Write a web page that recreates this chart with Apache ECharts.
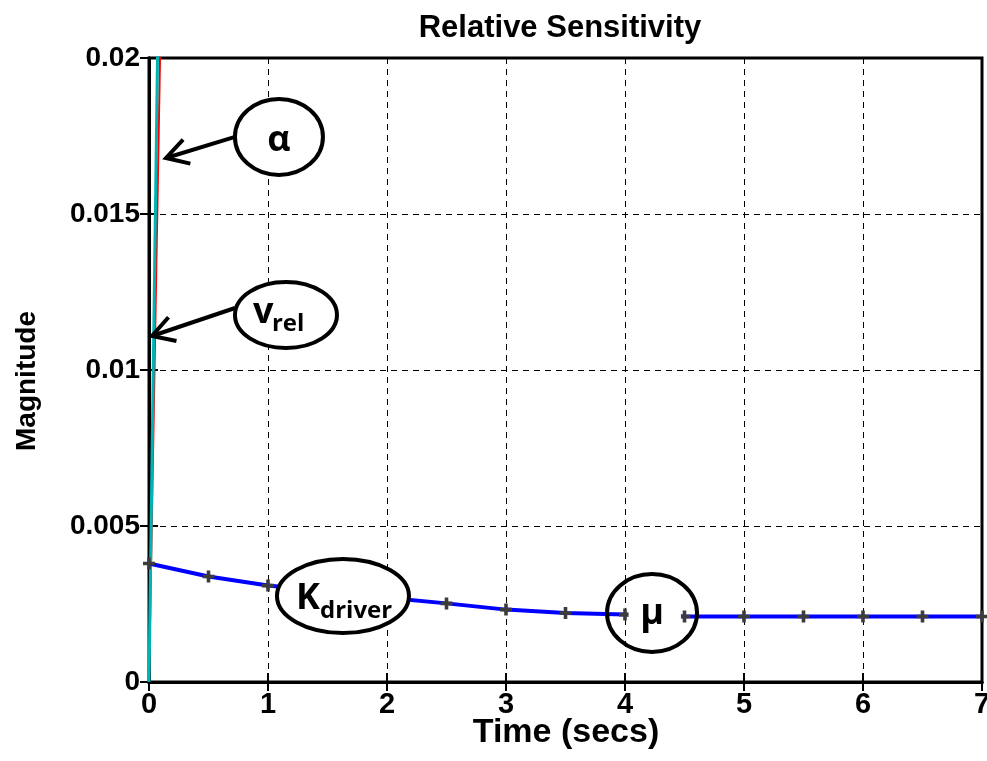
<!DOCTYPE html>
<html>
<head>
<meta charset="utf-8">
<script src="https://cdn.jsdelivr.net/npm/echarts@6/dist/echarts.min.js"></script>
<style>
  html, body { margin: 0; padding: 0; background: #ffffff; }
  #chart { width: 987px; height: 761px; }
</style>
</head>
<body>
<div id="chart"></div>
<script>
// Sensitivity samples (time in seconds)
const timeSecs = [0, 0.5, 1, 1.5, 2, 2.5, 3, 3.5, 4, 4.5, 5, 5.5, 6, 6.5, 7];
const kDriverSens = [0.0038, 0.00338, 0.00309, 0.0029, 0.0027, 0.00252, 0.00232, 0.00221, 0.00216, 0.0021, 0.0021, 0.0021, 0.0021, 0.0021, 0.0021];
const alphaTime = [0, 0.5];
const alphaSens = [0, 0.108];
const vrelTime = [0, 0.5];
const vrelSens = [0, 0.14];

// Axis ticks
const xTickValues = [0, 1, 2, 3, 4, 5, 6, 7];
const yTickLabels = ['0', '0.005', '0.01', '0.015', '0.02'];
const yStep = 0.005;

const pairs = (xs, ys) => xs.map((x, i) => [x, ys[i]]);

const axisFont = 'Liberation Sans, Arial, Helvetica, sans-serif';
const noteFont = '"Open Sans", Lato, sans-serif';

// plus-shaped point marker
const plusMarker = 'path://M3.5,0h3v3.5h3.5v3h-3.5v3.5h-3v-3.5h-3.5v-3h3.5z';

const chart = echarts.init(document.getElementById('chart'), null, { renderer: 'canvas' });

const gridLine = { show: true, lineStyle: { color: '#000', width: 1, type: [6, 5] } };

chart.setOption({
  animation: false,
  backgroundColor: '#ffffff',
  grid: { left: 149, right: 5, top: 58, bottom: 79, outerBoundsMode: 'none', containLabel: false,
    show: true, borderColor: '#000', borderWidth: 3, backgroundColor: 'transparent' },
  xAxis: [{
    type: 'value', min: 0, max: 7, interval: 1,
    axisLine: { show: true, lineStyle: { color: '#000', width: 3 } },
    axisTick: { show: true, inside: true, length: 9, lineStyle: { color: '#000', width: 2 } },
    axisLabel: { color: '#000', fontFamily: axisFont, fontWeight: 'bold', fontSize: 29, margin: 8,
      formatter: v => xTickValues.indexOf(v) >= 0 ? String(v) : '' },
    splitLine: gridLine
  }, {
    type: 'value', min: 0, max: 7, interval: 1, position: 'top',
    axisLine: { show: true, lineStyle: { color: '#000', width: 3 } },
    axisTick: { show: true, inside: true, length: 9, lineStyle: { color: '#000', width: 2 } },
    axisLabel: { show: false }, splitLine: { show: false }
  }],
  yAxis: [{
    type: 'value', min: 0, max: 0.02, interval: yStep,
    axisLine: { show: true, lineStyle: { color: '#000', width: 3 } },
    axisTick: { show: true, inside: true, length: 9, lineStyle: { color: '#000', width: 2 } },
    axisLabel: { color: '#000', fontFamily: axisFont, fontWeight: 'bold', fontSize: 28, margin: 9,
      formatter: v => yTickLabels[Math.round(v / yStep)] || '' },
    splitLine: gridLine
  }, {
    type: 'value', min: 0, max: 0.02, interval: yStep, position: 'right',
    axisLine: { show: true, lineStyle: { color: '#000', width: 3 } },
    axisTick: { show: true, inside: true, length: 9, lineStyle: { color: '#000', width: 2 } },
    axisLabel: { show: false }, splitLine: { show: false }
  }],
  series: [
    {
      name: 'alpha', type: 'line', data: pairs(alphaTime, alphaSens),
      showSymbol: false, clip: true, z: 2,
      lineStyle: { color: '#ff0000', width: 2 }
    },
    {
      name: 'vrel', type: 'line', data: pairs(vrelTime, vrelSens),
      showSymbol: false, clip: true, z: 3,
      lineStyle: { color: '#00b4b4', width: 3 }
    },
    {
      name: 'Kdriver', type: 'line', data: pairs(timeSecs, kDriverSens),
      symbol: plusMarker, symbolSize: 12, showSymbol: true, clip: false, z: 4,
      itemStyle: { color: '#3c3c3c' },
      lineStyle: { color: '#0000ff', width: 4 }
    }
  ]
});

// Annotation callouts, anchored in data coordinates
const notes = {
  alpha:   { at: [1.092, 0.01747],  rx: 44, ry: 38, tail: [0.723, 0.01747], tip: [0.143, 0.016795] },
  vrel:    { at: [1.151, 0.011763], rx: 51, ry: 33, tail: [0.723, 0.011987], tip: [0.025, 0.01109] },
  kdriver: { at: [1.630, 0.002756], rx: 66, ry: 37 },
  mu:      { at: [4.227, 0.002212], rx: 45, ry: 39, gap: [4.03, 4.47] }
};

const toPx = p => chart.convertToPixel({ gridIndex: 0 }, p);

function ellipse(n, fill) {
  const c = toPx(n.at);
  return {
    type: 'ellipse', z: 100,
    shape: { cx: c[0], cy: c[1], rx: n.rx, ry: n.ry },
    style: { fill: fill ? '#ffffff' : 'transparent', stroke: '#000', lineWidth: 4 }
  };
}

function arrow(n) {
  const a = toPx(n.tail), b = toPx(n.tip);
  const ang = Math.atan2(a[1] - b[1], a[0] - b[0]);
  const len = 25, spread = Math.PI / 6;
  const h1 = [b[0] + len * Math.cos(ang + spread), b[1] + len * Math.sin(ang + spread)];
  const h2 = [b[0] + len * Math.cos(ang - spread), b[1] + len * Math.sin(ang - spread)];
  return [
    { type: 'polyline', z: 100, shape: { points: [a, b] }, style: { stroke: '#000', lineWidth: 4, fill: null } },
    { type: 'polyline', z: 100, shape: { points: [h1, b, h2] }, style: { stroke: '#000', lineWidth: 4, fill: null, lineJoin: 'miter' } }
  ];
}

// text placed by its baseline
function label(txt, x, baseline, size, align) {
  return {
    type: 'text', z: 101, x: x, y: baseline - Math.round(0.76 * size),
    style: { text: txt, fill: '#000', font: 'bold ' + size + 'px ' + noteFont, textAlign: align || 'left', textVerticalAlign: 'top' }
  };
}

function axisText(txt, x, y, size, rot) {
  return {
    type: 'text', z: 101, x: x, y: y, rotation: rot || 0,
    style: { text: txt, fill: '#000', font: 'bold ' + size + 'px ' + axisFont, textAlign: 'center', textVerticalAlign: 'middle' }
  };
}

const cA = toPx(notes.alpha.at), cV = toPx(notes.vrel.at), cK = toPx(notes.kdriver.at), cM = toPx(notes.mu.at);
const g0 = toPx([notes.mu.gap[0], notes.mu.at[1]]), g1 = toPx([notes.mu.gap[1], notes.mu.at[1]]);

chart.setOption({
  graphic: [
    axisText('Relative Sensitivity', 560, 28, 31),
    axisText('Time (secs)', 566, 733, 34),
    axisText('Magnitude', 27, 381, 28, Math.PI / 2),

    ellipse(notes.alpha, true),
    ...arrow(notes.alpha),
    label('α', cA[0], cA[1] + 13, 36, 'center'),

    ellipse(notes.vrel, true),
    ...arrow(notes.vrel),
    label('v', cV[0] - 33, cV[1] + 7, 36),
    label('rel', cV[0] - 14, cV[1] + 15, 24),

    ellipse(notes.kdriver, true),
    label('K', cK[0] - 47, cK[1] + 12, 36),
    label('driver', cK[0] - 23, cK[1] + 21, 24),

    { type: 'rect', z: 99, shape: { x: g0[0], y: cM[1] - 22, width: g1[0] - g0[0], height: 44 }, style: { fill: '#ffffff' } },
    ellipse(notes.mu, false),
    label('μ', cM[0], cM[1] + 10, 36, 'center')
  ]
});
</script>
</body>
</html>
